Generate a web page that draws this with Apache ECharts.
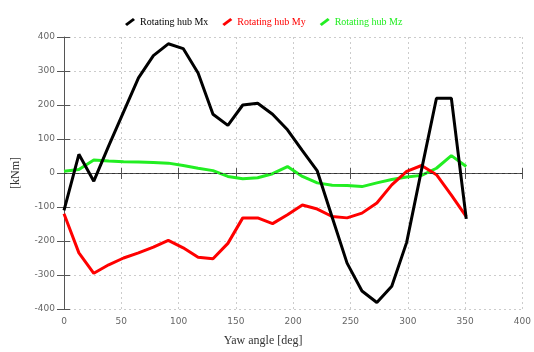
<!DOCTYPE html>
<html>
<head>
<meta charset="utf-8">
<script src="https://cdn.jsdelivr.net/npm/echarts@6/dist/echarts.min.js"></script>
<style>html,body{margin:0;padding:0;background:#fff}#c{width:534px;height:352px}</style>
</head>
<body>
<div id="c"></div>
<script>
const yawAngles = [0,13,26,39,52,65,78,91,104,117,130,143,156,169,182,195,208,221,234,247,260,273,286,299,312,325,338,351];
const hubMx = [-110,55,-24,80,180,280,345,380,366,294,173,140,200,205,173,127,66,6,-130,-265,-347,-381,-333,-204,10,220,220,-135];
const hubMy = [-120,-235,-295,-270,-250,-235,-218,-198,-220,-248,-252,-207,-132,-132,-149,-123,-94,-106,-128,-132,-118,-88,-35,5,22,-5,-65,-128];
const hubMz = [5,10,38,35,33,32,31,29,22,14,7,-10,-17,-14,-2,19,-10,-29,-36,-37,-40,-29,-19,-12,-7,14,51,19];
const seriesNames = ['Rotating hub Mx','Rotating hub My','Rotating hub Mz'];
const seriesColors = ['#000000','#ff0000','#22ee22'];

const pairs = arr => yawAngles.map((x,i)=>[x,arr[i]]);
const chart = echarts.init(document.getElementById('c'), null, {renderer:'canvas'});
const serif = 'Liberation Serif';
const sans = 'DejaVu Sans';
const icon = 'path://M0,6 L8,0 L10,2 L2,8 Z';

const mk = (idx, data, z) => ({
  name: seriesNames[idx], type:'line', data: pairs(data), showSymbol:false, symbol:'none',
  lineStyle:{width:3,color:seriesColors[idx]}, itemStyle:{color:seriesColors[idx]}, z:z, animation:false
});
const sMx = mk(0, hubMx, 5);
const sMy = mk(1, hubMy, 4);
const sMz = mk(2, hubMz, 3);
sMz.markLine = {silent:true, symbol:'none', label:{show:false}, animation:false,
  lineStyle:{color:'#333', type:[3,3], width:1}, data:[{yAxis:0}]};

chart.setOption({
  animation:false,
  legend:{
    data: seriesNames.map((n,i)=>({name:n, icon:icon, textStyle:{color:seriesColors[i]}})),
    left:120, top:12, itemWidth:10, itemHeight:8, itemGap:14,
    textStyle:{fontFamily:serif, fontSize:10}
  },
  grid:{left:64, right:6, top:37, bottom:39, containLabel:false},
  xAxis:[{
    type:'value', min:0, max:400, interval:50,
    name:'Yaw angle [deg]', nameLocation:'middle', nameGap:26,
    nameTextStyle:{fontFamily:serif, fontSize:12, color:'#333', padding:[0,60,0,0]},
    axisLine:{show:true, lineStyle:{color:'#555', width:1}},
    axisTick:{show:true, inside:false, length:6, lineStyle:{color:'#555'}},
    axisLabel:{fontFamily:sans, fontSize:9, color:'#666', margin:8},
    splitLine:{show:true, lineStyle:{color:'#ccc', type:[2,3], width:1}}
  },{
    type:'value', min:0, max:400, interval:50, position:'bottom',
    axisLine:{show:false}, axisLabel:{show:false}, splitLine:{show:false},
    axisTick:{show:true, inside:true, length:5, lineStyle:{color:'#555'}}
  }],
  yAxis:[{
    type:'value', min:-400, max:400, interval:100,
    name:'[kNm]', nameLocation:'middle', nameGap:42, nameRotate:90,
    nameTextStyle:{fontFamily:serif, fontSize:12, color:'#333'},
    axisLine:{show:true, lineStyle:{color:'#555', width:1}},
    axisTick:{show:true, inside:false, length:7, lineStyle:{color:'#555'}},
    axisLabel:{fontFamily:sans, fontSize:9, color:'#666', margin:9},
    splitLine:{show:true, lineStyle:{color:'#ccc', type:[2,3], width:1}}
  },{
    type:'value', min:-400, max:400, interval:100, position:'left',
    axisLine:{show:false}, axisLabel:{show:false}, splitLine:{show:false},
    axisTick:{show:true, inside:true, length:6, lineStyle:{color:'#555'}}
  }],
  series:[sMz, sMy, sMx]
});
</script>
</body>
</html>
